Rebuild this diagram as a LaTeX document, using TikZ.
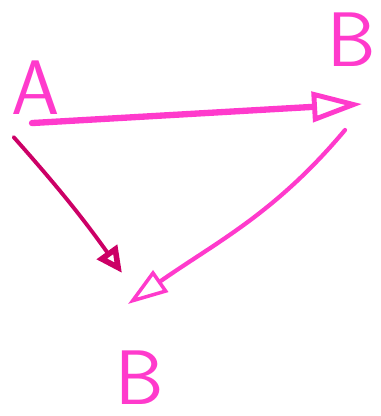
\documentclass[tikz,border=0pt]{standalone}
\usepackage{tikz}
\usetikzlibrary{arrows.meta,positioning,calc}

\definecolor{hotpink}{RGB}{255,58,204}
\definecolor{darkmag}{RGB}{204,0,102}

\begin{document}
\begin{tikzpicture}[
        letter/.style={text=hotpink, font=\sffamily\fontsize{22}{26}\selectfont, inner sep=1pt},
        mainarrow/.style={-{Triangle[open, length=5mm, width=3mm, line width=1.4pt]}, draw=hotpink, line width=1.8pt, line cap=round},
        sidearrow/.style={-{Triangle[open, length=2.6mm, width=2.4mm, line width=1.6pt]}, draw=darkmag, line width=1.1pt, line cap=round},
        backarrow/.style={-{Triangle[open, length=4mm, width=2.6mm, line width=1pt]}, draw=hotpink, line width=1.2pt, line cap=round}
    ]
        \useasboundingbox (0,0) rectangle (3.8,-4.16);

        \node[letter] (A) at (0.36,-0.88) {A};
        \node[letter] (Btop) at (3.52,-0.40) {B};
        \node[letter] (Bbot) at (1.40,-3.78) {B};

        \draw[mainarrow] ($(A.south)+(-0.04,-0.04)$) -- ($(Btop.south)+(0.10,-0.33)$);
        \draw[sidearrow] ($(A.south west)+(0.06,-0.18)$) to[bend left=3] ($(Bbot.north)+(-0.18,0.74)$);
        \draw[backarrow] ($(Btop.south)+(-0.07,-0.59)$) to[out=-130,in=35] ($(Bbot.north)+(-0.12,0.43)$);
    \end{tikzpicture}
\end{document}
